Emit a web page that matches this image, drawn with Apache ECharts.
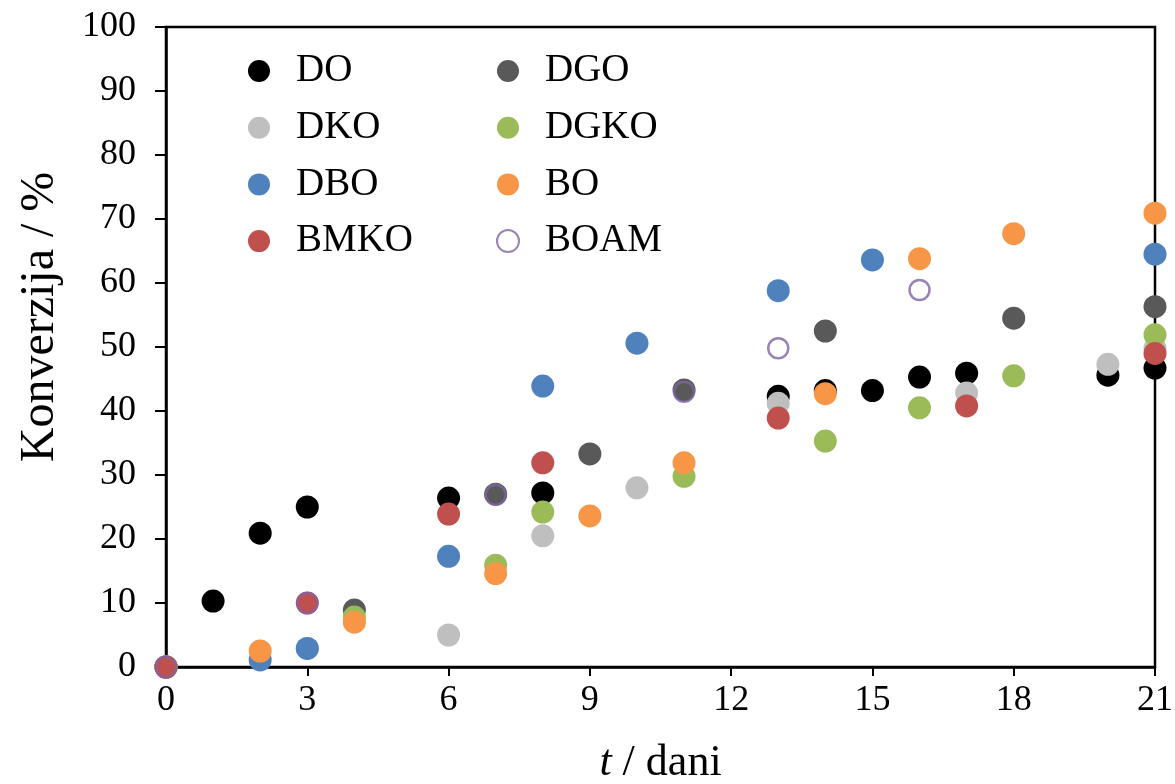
<!DOCTYPE html>
<html>
<head>
<meta charset="utf-8">
<script src="https://cdn.jsdelivr.net/npm/echarts@6/dist/echarts.min.js"></script>
<style>
  html, body { margin: 0; padding: 0; background: #fff; }
  #chart { width: 1175px; height: 784px; }
</style>
</head>
<body>
<div id="chart"></div>
<script>
// Conversion (%) versus time (days) for each sample
const xTicks = [0, 3, 6, 9, 12, 15, 18, 21];
const yTicks = [0, 10, 20, 30, 40, 50, 60, 70, 80, 90, 100];

const DO_days   = [0, 1, 2, 3, 6, 8, 13, 14, 15, 16, 17, 20, 21];
const DO_vals   = [0, 10.3, 20.9, 25.0, 26.4, 27.2, 42.3, 43.2, 43.2, 45.3, 45.9, 45.6, 46.7];

const DGO_days  = [0, 4, 7, 9, 11, 14, 18, 21];
const DGO_vals  = [0, 8.9, 27.0, 33.3, 43.3, 52.5, 54.5, 56.3];

const DKO_days  = [0, 3, 6, 8, 10, 13, 17, 20, 21];
const DKO_vals  = [0, 2.9, 5.0, 20.5, 28.0, 41.2, 42.8, 47.3, 49.8];

const DGKO_days = [0, 4, 7, 8, 11, 14, 16, 18, 21];
const DGKO_vals = [0, 7.8, 15.9, 24.2, 29.8, 35.3, 40.5, 45.5, 51.9];

const DBO_days  = [0, 2, 3, 6, 8, 10, 13, 15, 21];
const DBO_vals  = [0, 1.1, 2.9, 17.3, 43.9, 50.6, 58.8, 63.6, 64.5];

const BO_days   = [0, 2, 4, 7, 9, 11, 14, 16, 18, 21];
const BO_vals   = [0, 2.5, 7.0, 14.6, 23.6, 31.9, 42.7, 63.8, 67.7, 70.9];

const BMKO_days = [0, 3, 6, 8, 13, 17, 21];
const BMKO_vals = [0, 10.0, 23.9, 31.9, 38.9, 40.8, 49.0];

const BOAM_days = [0, 3, 7, 11, 13, 16];
const BOAM_vals = [0, 10.0, 26.9, 43.0, 49.8, 58.9];

const FONT = "'Liberation Serif', 'Times New Roman', serif";

function pairs(days, vals) {
  return days.map((d, i) => [d, vals[i]]);
}

function dotSeries(name, days, vals, color) {
  return {
    name: name,
    type: 'scatter',
    data: pairs(days, vals),
    symbol: 'circle',
    symbolSize: 23,
    clip: false,
    itemStyle: { color: color, opacity: 1 },
    emphasis: { disabled: true }
  };
}

const series = [
  dotSeries('DO', DO_days, DO_vals, '#000000'),
  dotSeries('DGO', DGO_days, DGO_vals, '#595959'),
  dotSeries('DKO', DKO_days, DKO_vals, '#BFBFBF'),
  dotSeries('DGKO', DGKO_days, DGKO_vals, '#9BBB59'),
  dotSeries('DBO', DBO_days, DBO_vals, '#4F81BD'),
  dotSeries('BO', BO_days, BO_vals, '#F79646'),
  dotSeries('BMKO', BMKO_days, BMKO_vals, '#C0504D'),
  {
    name: 'BOAM',
    type: 'scatter',
    data: pairs(BOAM_days, BOAM_vals),
    symbol: 'circle',
    symbolSize: 20,
    clip: false,
    itemStyle: { color: 'rgba(0,0,0,0)', borderColor: '#8064A2', borderWidth: 2.5 },
    emphasis: { disabled: true }
  }
];

const legendCommon = {
  orient: 'vertical',
  top: 46,
  itemWidth: 64,
  itemHeight: 22,
  itemGap: 16.7,
  icon: 'circle',
  selectedMode: false,
  textStyle: { fontFamily: FONT, fontSize: 39, color: '#000', lineHeight: 40 }
};

const chart = echarts.init(document.getElementById('chart'), null, { renderer: 'canvas' });
chart.setOption({
  animation: false,
  backgroundColor: '#ffffff',
  grid: {
    left: 166, right: 20, top: 27, bottom: 117,
    containLabel: false,
    outerBoundsMode: 'none',
    show: true, borderColor: '#000', borderWidth: 2.5, backgroundColor: 'rgba(0,0,0,0)'
  },
  legend: [
    Object.assign({ left: 243, data: ['DO', 'DKO', 'DBO', 'BMKO'] }, legendCommon),
    Object.assign({ left: 491, data: ['DGO', 'DGKO', 'BO', 'BOAM'] }, legendCommon)
  ],
  xAxis: {
    type: 'value',
    min: xTicks[0], max: xTicks[xTicks.length - 1], interval: 3,
    splitLine: { show: false },
    axisLine: { show: true, onZero: false, lineStyle: { color: '#000', width: 2.5 } },
    axisTick: { show: true, inside: false, length: 9, lineStyle: { color: '#000', width: 2 } },
    axisLabel: { fontFamily: FONT, fontSize: 36, color: '#000', margin: 16 },
    name: '{it|t} / dani',
    nameLocation: 'middle',
    nameGap: 74,
    nameTextStyle: {
      fontFamily: FONT, fontSize: 44, color: '#000',
      rich: { it: { fontFamily: FONT, fontSize: 44, fontStyle: 'italic', color: '#000' } }
    }
  },
  yAxis: {
    type: 'value',
    min: yTicks[0], max: yTicks[yTicks.length - 1], interval: 10,
    splitLine: { show: false },
    axisLine: { show: true, onZero: false, lineStyle: { color: '#000', width: 2.5 } },
    axisTick: { show: true, inside: false, length: 11, lineStyle: { color: '#000', width: 2 } },
    axisLabel: { fontFamily: FONT, fontSize: 36, color: '#000', margin: 30 },
    name: 'Konverzija / %',
    nameLocation: 'middle',
    nameRotate: 90,
    nameGap: 102,
    nameTextStyle: { fontFamily: FONT, fontSize: 48, color: '#000', padding: [0, 0, 0, 60] }
  },
  series: series
});
</script>
</body>
</html>
